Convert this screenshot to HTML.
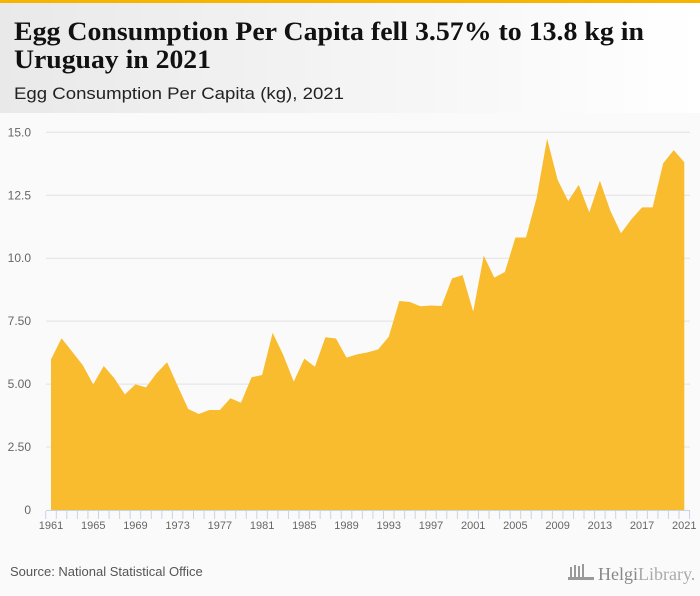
<!DOCTYPE html>
<html><head><meta charset="utf-8"><style>
body{margin:0;width:700px;height:596px;background:#fafafa;font-family:"Liberation Sans",sans-serif;overflow:hidden;position:relative}
#hdr{position:absolute;left:0;top:0;width:700px;height:113px;background:linear-gradient(90deg,#e9e9e9,#ffffff);border-top:3px solid #f5b400;box-sizing:border-box}
</style></head><body>
<div id="hdr"></div>
<svg width="700" height="596" style="position:absolute;left:0;top:0">
<text x="14" y="40" font-family="Liberation Serif" font-weight="bold" font-size="26" fill="#111" textLength="630" lengthAdjust="spacingAndGlyphs">Egg Consumption Per Capita fell 3.57% to 13.8 kg in</text>
<text x="14" y="68" font-family="Liberation Serif" font-weight="bold" font-size="26" fill="#111" textLength="197" lengthAdjust="spacingAndGlyphs">Uruguay in 2021</text>
<text x="14" y="99" font-family="Liberation Sans" font-size="17" fill="#222" textLength="330" lengthAdjust="spacingAndGlyphs">Egg Consumption Per Capita (kg), 2021</text>
<g id="grid"></g><g id="area"></g><g id="axis"></g>
<text x="10" y="576" font-size="13" fill="#555">Source: National Statistical Office</text>
<g fill="#999">
<rect x="570" y="567" width="2" height="10"/><rect x="574" y="565" width="2" height="12"/><rect x="578" y="566" width="2" height="11"/><rect x="582" y="564" width="2" height="13"/>
<rect x="568" y="577" width="26" height="3"/>
<text x="598" y="580" font-family="Liberation Serif" font-size="18" fill="#888">Helgi<tspan font-weight="normal" fill="#aaa">Library.</tspan></text>
</g>
</svg>
<script>
const years=[];for(let y=1961;y<=2021;y++)years.push(y);
const values=[5.98,6.82,6.29,5.76,4.99,5.72,5.23,4.59,4.99,4.87,5.43,5.87,4.93,4.01,3.81,3.97,3.97,4.44,4.26,5.27,5.36,7.04,6.16,5.10,6.01,5.69,6.86,6.81,6.05,6.18,6.26,6.38,6.88,8.30,8.26,8.09,8.12,8.10,9.20,9.33,7.88,10.10,9.23,9.45,10.82,10.82,12.38,14.75,13.11,12.27,12.91,11.82,13.08,11.88,10.99,11.55,12.02,12.02,13.77,14.29,13.81];
const yTicks=[0,2.5,5,7.5,10,12.5,15];
const yTickLabels=["0","2.50","5.00","7.50","10.0","12.5","15.0"];
const xLabelYears=[1961,1965,1969,1973,1977,1981,1985,1989,1993,1997,2001,2005,2009,2013,2017,2021];
const NS="http://www.w3.org/2000/svg";
const X=y=>51+(y-1961)*(684.3-51)/60;
const Y=v=>510-v*(510-132.3)/15;
function mk(t,a,p){const e=document.createElementNS(NS,t);for(const k in a)e.setAttribute(k,a[k]);p.appendChild(e);return e;}
const grid=document.getElementById('grid'),area=document.getElementById('area'),axis=document.getElementById('axis');
yTicks.forEach((v,i)=>{
 if(v>0){const l=mk('line',{x1:46,x2:690,y1:Y(v),y2:Y(v),stroke:'#e2e2e2','stroke-width':1},grid);
 
 }
 const t=mk('text',{x:31,y:Y(v)+4,'font-size':12,fill:'#666','text-anchor':'end'},grid);
 t.textContent=yTickLabels[i];
 
 
});
let d='M'+X(years[0])+','+Y(0);
years.forEach((y,i)=>{d+=' L'+X(y).toFixed(2)+','+Y(values[i]).toFixed(2);});
d+=' L'+X(years[years.length-1])+','+Y(0)+' Z';
const p=mk('path',{d:d,fill:'#f9bc2e'},area);


const ax=mk('line',{x1:46,x2:690,y1:510.5,y2:510.5,stroke:'#c8d4e6','stroke-width':1},axis);


for(let y=1960.5;y<=2021.5;y+=1){
 const tk=mk('line',{x1:X(y),x2:X(y),y1:511,y2:519,stroke:'#c8d4e6','stroke-width':1},axis);
 
 
}
xLabelYears.forEach(y=>{
 const t=mk('text',{x:X(y),y:529,'font-size':11,fill:'#666','text-anchor':'middle'},axis);
 t.textContent=y;
 
 
});
</script>
</body></html>
